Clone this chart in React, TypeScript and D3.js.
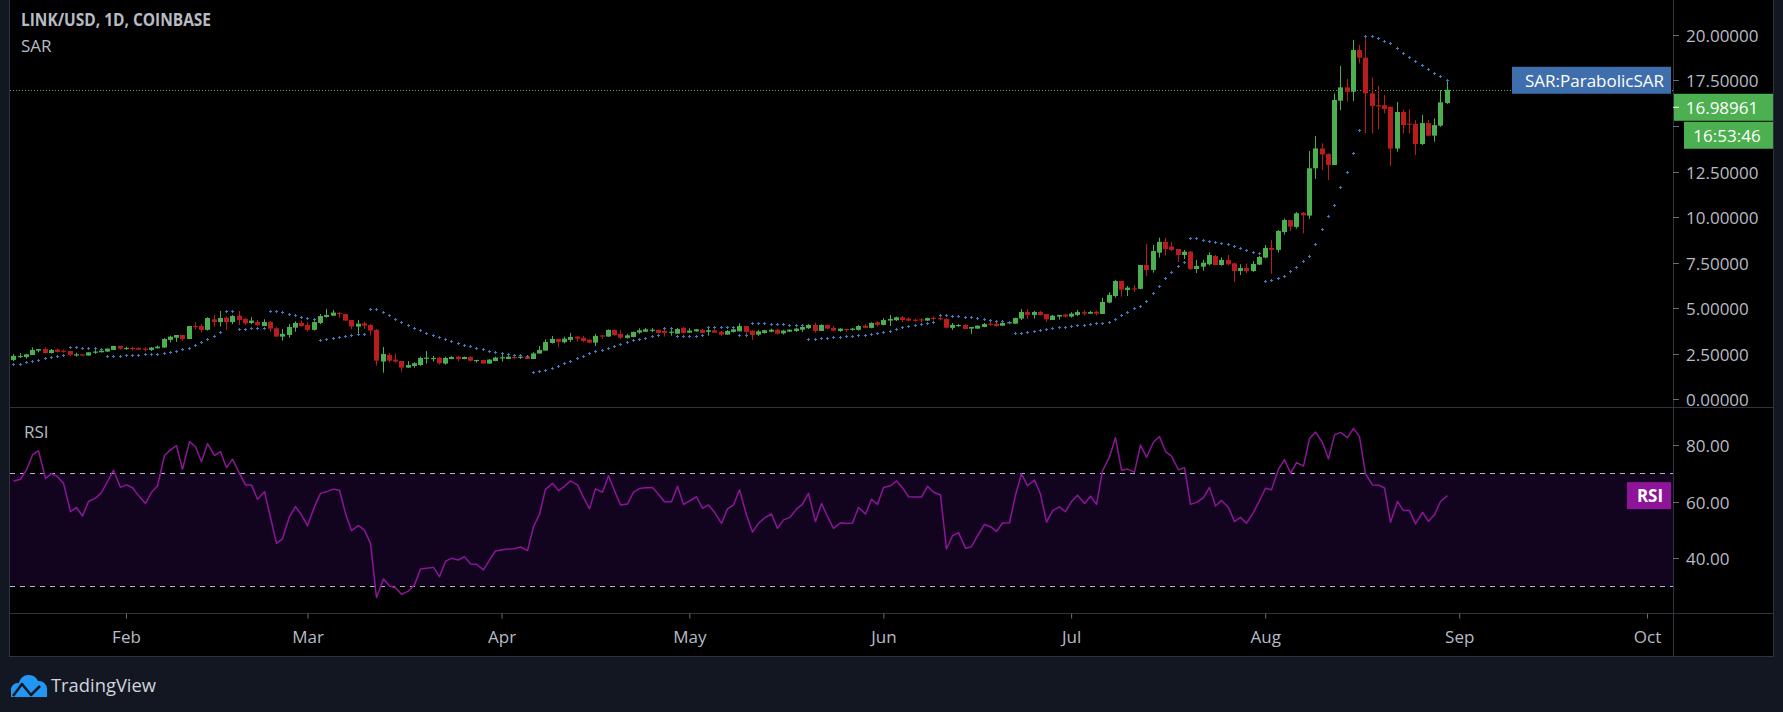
import { useEffect, useRef } from "react";
import * as d3 from "d3";

const W = 1783;
const H = 712;

// daily candles, LINK/USD, first candle on 14 Jan 2020
const startDay = new Date(2020, 0, 14);
const endDay = new Date(2020, 9, 1);

const openPrices = [
  2.16, 2.32, 2.32, 2.43, 2.67, 2.76, 2.54, 2.73, 2.67, 2.65,
  2.43, 2.47, 2.4, 2.58, 2.58, 2.62, 2.71, 2.93, 2.78, 2.82,
  2.82, 2.78, 2.71, 2.8, 2.84, 3.26, 3.38, 3.53, 3.31, 4.02,
  4.02, 3.81, 4.39, 4.24, 4.48, 4.24, 4.59, 4.41, 4.19, 4.24,
  4.02, 4.24, 3.9, 3.44, 3.53, 3.93, 4.19, 4.08, 3.81, 4.19,
  4.52, 4.59, 4.74, 4.68, 4.35, 3.99, 4.17, 4.08, 3.81, 2.07,
  2.43, 2.18, 2.1, 1.74, 1.83, 1.88, 2.25, 2.21, 2.29, 1.96,
  2.21, 2.34, 2.21, 2.32, 2.12, 2.16, 1.96, 2.1, 2.27, 2.21,
  2.32, 2.29, 2.34, 2.21, 2.51, 2.67, 3.09, 3.31, 3.13, 3.26,
  3.44, 3.38, 3.27, 3.11, 3.51, 3.44, 3.81, 3.59, 3.37, 3.42,
  3.66, 3.71, 3.77, 3.81, 3.75, 3.66, 3.6, 3.92, 3.66, 3.73,
  3.82, 3.7, 3.79, 3.71, 3.55, 3.7, 3.73, 4.02, 3.77, 3.55,
  3.64, 3.71, 3.82, 3.62, 3.71, 3.75, 3.82, 3.9, 4.08, 3.75,
  4.08, 3.92, 3.75, 3.86, 3.81, 3.81, 4.04, 3.92, 4.23, 4.08,
  4.32, 4.34, 4.5, 4.43, 4.37, 4.39, 4.32, 4.48, 4.45, 4.41,
  3.92, 4.02, 4.08, 3.88, 3.88, 3.97, 4.15, 4.15, 4.04, 4.17,
  4.15, 4.43, 4.79, 4.63, 4.79, 4.68, 4.35, 4.54, 4.65, 4.54,
  4.63, 4.78, 4.7, 4.81, 4.68, 5.31, 5.67, 6.49, 6.0, 6.09,
  6.06, 7.37, 7.1, 8.05, 8.64, 8.38, 8.25, 7.92, 8.1, 7.15,
  7.28, 7.41, 7.87, 7.37, 7.65, 7.46, 7.04, 7.21, 7.04, 7.39,
  7.78, 8.31, 8.2, 9.18, 9.84, 9.46, 10.24, 10.08, 12.68, 13.77,
  13.46, 12.86, 16.39, 17.12, 16.88, 19.17, 18.75, 16.79, 16.14, 16.14,
  16.06, 13.76, 15.77, 15.13, 15.11, 14.01, 15.16, 14.47, 15.02, 16.26,
];

const highPrices = [
  2.49, 2.54, 2.47, 2.85, 2.76, 2.85, 2.76, 2.78, 2.74, 2.65,
  2.56, 2.48, 2.58, 2.74, 2.78, 2.8, 2.94, 2.93, 2.89, 2.89,
  2.85, 2.85, 2.87, 2.95, 3.35, 3.49, 3.53, 3.53, 4.03, 4.24,
  4.13, 4.5, 4.63, 4.85, 4.56, 4.63, 4.85, 4.48, 4.52, 4.35,
  4.39, 4.3, 3.95, 3.86, 4.13, 4.28, 4.34, 4.23, 4.28, 4.68,
  4.96, 4.9, 4.78, 4.7, 4.35, 4.35, 4.26, 4.13, 3.86, 2.87,
  2.54, 2.51, 2.1, 2.1, 2.03, 2.34, 2.65, 2.38, 2.32, 2.34,
  2.38, 2.38, 2.34, 2.36, 2.16, 2.17, 2.21, 2.34, 2.43, 2.43,
  2.45, 2.42, 2.38, 2.58, 2.93, 3.29, 3.48, 3.31, 3.44, 3.64,
  3.49, 3.48, 3.33, 3.59, 3.55, 3.84, 3.81, 3.81, 3.59, 3.71,
  3.9, 3.92, 3.92, 3.83, 3.81, 3.82, 3.92, 3.97, 3.9, 3.86,
  3.86, 3.88, 3.84, 3.75, 3.81, 3.93, 4.17, 4.02, 3.81, 3.81,
  3.82, 3.88, 3.88, 3.81, 3.84, 3.93, 4.12, 4.13, 4.21, 4.12,
  4.1, 4.02, 3.9, 3.86, 3.92, 4.08, 4.13, 4.23, 4.3, 4.45,
  4.63, 4.54, 4.57, 4.5, 4.43, 4.45, 4.48, 4.54, 4.5, 4.45,
  4.19, 4.13, 4.13, 3.97, 4.06, 4.19, 4.24, 4.32, 4.32, 4.3,
  4.48, 4.96, 4.96, 4.85, 4.85, 4.68, 4.63, 4.63, 4.68, 4.78,
  4.9, 4.9, 4.85, 4.87, 5.58, 5.87, 6.55, 6.5, 6.22, 6.27,
  7.38, 8.53, 8.47, 8.87, 8.87, 8.64, 8.25, 8.2, 8.14, 7.65,
  7.65, 8.07, 7.92, 7.79, 7.92, 7.5, 7.41, 7.46, 7.59, 7.87,
  8.47, 8.75, 9.29, 9.93, 9.85, 10.28, 10.28, 13.63, 14.45, 14.05,
  13.5, 16.79, 18.29, 17.58, 19.72, 19.45, 19.94, 17.67, 17.2, 16.7,
  16.06, 16.32, 15.91, 15.91, 15.33, 15.61, 15.33, 15.42, 16.97, 17.53,
];

const lowPrices = [
  2.1, 2.27, 2.23, 2.43, 2.58, 2.51, 2.51, 2.56, 2.56, 2.36,
  2.34, 2.39, 2.4, 2.49, 2.58, 2.6, 2.7, 2.73, 2.71, 2.67,
  2.71, 2.62, 2.65, 2.78, 2.84, 3.13, 3.15, 3.2, 3.3, 3.84,
  3.66, 3.77, 3.99, 3.99, 3.82, 4.12, 4.08, 4.08, 4.12, 4.01,
  4.02, 3.71, 3.44, 3.22, 3.38, 3.71, 3.99, 3.71, 3.77, 4.12,
  4.48, 4.57, 4.48, 4.3, 3.84, 3.59, 3.86, 3.51, 1.85, 1.46,
  2.03, 2.01, 1.52, 1.72, 1.74, 1.83, 1.96, 2.07, 1.9, 1.9,
  2.2, 2.09, 2.2, 2.07, 2.01, 1.95, 1.96, 2.09, 2.07, 2.21,
  2.21, 2.21, 2.21, 2.21, 2.51, 2.67, 3.06, 2.87, 3.07, 3.15,
  3.17, 3.15, 3.07, 2.93, 3.33, 3.44, 3.48, 3.31, 3.33, 3.4,
  3.59, 3.71, 3.68, 3.62, 3.44, 3.49, 3.6, 3.6, 3.64, 3.71,
  3.62, 3.49, 3.64, 3.48, 3.55, 3.66, 3.73, 3.51, 3.26, 3.48,
  3.6, 3.68, 3.55, 3.55, 3.7, 3.7, 3.7, 3.86, 3.66, 3.75,
  3.86, 3.73, 3.7, 3.7, 3.77, 3.77, 3.9, 3.9, 3.99, 4.06,
  4.02, 4.3, 4.24, 4.28, 4.26, 4.21, 4.3, 4.32, 4.32, 3.88,
  3.81, 3.97, 3.86, 3.59, 3.87, 3.95, 4.01, 3.97, 4.02, 4.12,
  4.13, 4.35, 4.41, 4.43, 4.59, 4.26, 4.35, 4.37, 4.48, 4.48,
  4.56, 4.61, 4.68, 4.61, 4.68, 5.27, 5.58, 5.63, 5.67, 5.89,
  6.04, 6.77, 6.95, 7.78, 7.89, 8.14, 7.54, 7.7, 7.1, 6.93,
  7.06, 7.35, 7.35, 7.33, 7.35, 6.46, 6.82, 6.93, 6.99, 7.37,
  7.74, 6.88, 8.05, 9.04, 9.24, 9.37, 9.11, 9.9, 12.09, 12.59,
  12.04, 12.86, 15.88, 16.34, 16.37, 18.44, 14.6, 14.6, 14.82, 15.69,
  12.8, 13.59, 14.6, 14.6, 13.41, 13.96, 14.42, 14.14, 14.96, 16.21,
];

const closePrices = [
  2.38, 2.38, 2.47, 2.71, 2.76, 2.54, 2.71, 2.6, 2.63, 2.45,
  2.47, 2.4, 2.58, 2.62, 2.67, 2.78, 2.93, 2.78, 2.82, 2.76,
  2.73, 2.74, 2.84, 2.89, 3.31, 3.44, 3.53, 3.31, 4.02, 3.99,
  3.81, 4.46, 4.24, 4.46, 4.24, 4.57, 4.35, 4.17, 4.32, 4.08,
  4.24, 3.88, 3.44, 3.59, 3.97, 4.19, 4.02, 3.81, 4.24, 4.57,
  4.63, 4.76, 4.7, 4.32, 3.99, 4.15, 4.04, 3.77, 2.12, 2.49,
  2.12, 2.07, 1.74, 1.88, 1.98, 2.27, 2.29, 2.27, 1.98, 2.27,
  2.32, 2.21, 2.32, 2.12, 2.16, 1.96, 2.18, 2.29, 2.31, 2.34,
  2.27, 2.34, 2.21, 2.52, 2.71, 3.15, 3.31, 3.15, 3.33, 3.42,
  3.33, 3.2, 3.11, 3.48, 3.44, 3.81, 3.53, 3.38, 3.51, 3.7,
  3.79, 3.84, 3.82, 3.64, 3.64, 3.71, 3.86, 3.64, 3.77, 3.84,
  3.64, 3.79, 3.66, 3.55, 3.75, 3.84, 4.02, 3.7, 3.53, 3.73,
  3.79, 3.82, 3.6, 3.77, 3.82, 3.88, 3.97, 4.08, 3.75, 4.08,
  3.88, 3.77, 3.88, 3.82, 3.88, 4.02, 3.92, 4.19, 4.08, 4.35,
  4.41, 4.5, 4.35, 4.32, 4.32, 4.34, 4.46, 4.43, 4.41, 3.93,
  4.08, 4.08, 3.86, 3.97, 4.04, 4.13, 4.1, 4.02, 4.19, 4.23,
  4.46, 4.79, 4.63, 4.79, 4.63, 4.39, 4.59, 4.63, 4.54, 4.7,
  4.79, 4.7, 4.79, 4.7, 5.34, 5.73, 6.49, 6.02, 6.13, 6.06,
  7.37, 7.1, 8.14, 8.64, 8.25, 8.2, 7.92, 8.1, 7.15, 7.32,
  7.5, 7.92, 7.37, 7.65, 7.41, 7.04, 7.21, 7.04, 7.43, 7.81,
  8.31, 8.2, 9.24, 9.84, 9.48, 10.21, 10.1, 12.68, 13.77, 13.44,
  12.86, 16.43, 17.12, 16.88, 19.17, 18.75, 16.79, 16.1, 16.12, 15.93,
  13.76, 15.77, 15.05, 15.07, 14.01, 15.16, 14.47, 15.05, 16.3, 16.99,
];

const sarValues = [
  1.92, 1.92, 2.03, 2.09, 2.14, 2.25, 2.31, 2.36, 2.42, 2.85,
  2.85, 2.8, 2.8, 2.8, 2.74, 2.36, 2.36, 2.36, 2.42, 2.42,
  2.42, 2.47, 2.47, 2.47, 2.52, 2.58, 2.63, 2.74, 2.8, 2.96,
  3.13, 3.29, 3.46, 3.68, 4.83, 4.83, 3.84, 3.84, 3.9, 3.9,
  3.9, 4.83, 4.83, 4.78, 4.67, 4.61, 4.5, 4.45, 4.39, 3.24,
  3.29, 3.35, 3.4, 3.46, 3.51, 3.57, 3.57, 4.94, 4.94, 4.78,
  4.61, 4.39, 4.23, 4.06, 3.9, 3.79, 3.62, 3.51, 3.4, 3.29,
  3.18, 3.07, 2.98, 2.91, 2.8, 2.74, 2.63, 2.58, 2.52, 2.47,
  2.42, 2.42, 2.36, 1.48, 1.54, 1.59, 1.7, 1.81, 1.98, 2.09,
  2.25, 2.36, 2.52, 2.63, 2.69, 2.8, 2.91, 3.02, 3.13, 3.24,
  3.29, 3.35, 3.46, 3.51, 3.9, 3.9, 3.46, 3.46, 3.46, 3.46,
  3.51, 3.95, 3.95, 3.95, 3.95, 3.95, 3.51, 3.51, 4.17, 4.17,
  4.17, 4.12, 4.12, 4.12, 4.06, 4.06, 4.06, 3.29, 3.29, 3.35,
  3.35, 3.4, 3.4, 3.46, 3.46, 3.51, 3.51, 3.57, 3.62, 3.68,
  3.73, 3.84, 3.95, 4.01, 4.06, 4.12, 4.17, 4.23, 4.61, 4.61,
  4.56, 4.56, 4.5, 4.5, 4.45, 4.39, 4.34, 4.28, 4.28, 4.23,
  3.62, 3.62, 3.68, 3.73, 3.79, 3.84, 3.9, 3.95, 3.95, 4.01,
  4.06, 4.06, 4.12, 4.17, 4.17, 4.23, 4.39, 4.61, 4.78, 4.99,
  5.1, 5.38, 5.82, 6.2, 6.64, 6.97, 7.3, 7.52, 8.84, 8.84,
  8.73, 8.67, 8.62, 8.56, 8.51, 8.4, 8.29, 8.18, 8.07, 8.01,
  6.48, 6.53, 6.64, 6.75, 7.03, 7.24, 7.57, 7.85, 8.51, 9.33,
  10.04, 10.65, 11.64, 12.49, 13.53, 14.78, 19.94, 19.94, 19.81, 19.68,
  19.57, 19.3, 19.02, 18.8, 18.55, 18.33, 18.13, 17.91, 17.73, 17.51,
];

const rsiValues = [
  67.3, 67.9, 71.2, 76.5, 78.0, 68.2, 69.9, 68.8, 66.5, 56.4,
  57.9, 54.9, 60.0, 61.2, 63.2, 67.1, 71.1, 65.0, 65.9, 64.9,
  62.1, 59.3, 63.3, 65.5, 76.3, 78.3, 79.8, 71.4, 81.2, 79.4,
  74.1, 80.5, 76.3, 77.7, 72.0, 75.0, 70.0, 65.9, 65.9, 60.8,
  63.5, 54.4, 45.2, 46.8, 54.7, 58.2, 55.3, 51.4, 58.2, 62.9,
  63.5, 64.4, 64.0, 55.8, 49.7, 51.5, 49.9, 45.2, 26.0, 32.6,
  30.1, 29.5, 27.2, 28.3, 30.5, 36.1, 36.4, 36.7, 33.4, 38.9,
  39.9, 39.3, 40.5, 37.9, 37.8, 35.8, 39.3, 42.5, 42.9, 43.2,
  43.3, 43.9, 42.6, 51.1, 55.5, 64.3, 66.5, 63.9, 65.4, 67.3,
  65.9, 61.5, 57.4, 64.5, 63.3, 69.1, 63.8, 58.8, 59.1, 63.3,
  64.6, 64.9, 65.0, 62.6, 59.9, 59.9, 65.4, 59.0, 60.2, 61.7,
  57.6, 58.8, 56.2, 52.3, 57.4, 58.8, 64.2, 55.2, 49.2, 52.3,
  54.2, 55.6, 50.5, 53.5, 54.3, 57.3, 59.1, 62.9, 52.9, 59.3,
  54.7, 50.5, 52.5, 52.2, 52.4, 57.9, 55.6, 60.8, 59.0, 65.0,
  65.6, 67.3, 64.9, 61.7, 61.6, 61.6, 65.4, 63.3, 62.3, 43.2,
  47.9, 49.0, 43.5, 44.0, 47.9, 51.9, 51.1, 49.4, 52.4, 52.5,
  62.3, 69.8, 65.6, 67.6, 62.6, 52.7, 56.7, 58.1, 56.4, 60.0,
  62.2, 59.3, 61.9, 59.0, 70.9, 75.8, 82.6, 71.1, 71.5, 70.4,
  80.0, 75.7, 81.0, 83.0, 77.7, 76.1, 71.2, 72.0, 59.0, 59.7,
  61.4, 65.0, 58.4, 60.4, 57.9, 52.9, 54.4, 52.3, 56.2, 60.3,
  64.7, 64.2, 71.5, 74.8, 70.0, 73.8, 72.6, 82.3, 84.6, 80.9,
  75.1, 83.6, 84.5, 82.6, 85.9, 83.0, 69.8, 65.9, 65.8, 64.8,
  52.7, 60.0, 56.8, 56.8, 52.1, 56.2, 53.0, 55.3, 60.0, 62.1,
];

const priceTicks = [0, 2.5, 5, 7.5, 10, 12.5, 15, 17.5, 20];
const rsiTicks = [40, 60, 80];
const rsiBand = [30, 70];
const lastPriceText = "16.98961";
const countdownText = "16:53:46";

const FONT = "'Open Sans', 'Noto Sans', sans-serif";
const TEXT = "#b8bbc4";
const GRID = "#2f333e";
const UP = "#4caf50";
const DOWN = "#b81c1c";
const SAR_BLUE = "#4577c0";
const RSI_PURPLE = "#8e1599";

export default function App() {
  const svgRef = useRef<SVGSVGElement>(null);

  useEffect(() => {
    const svg = d3.select(svgRef.current);
    if (!svgRef.current) return;
    svg.selectAll("*").remove();

    const left = 10;
    const right = 1773;
    const axisX = 1673;
    const paneSep = 407;
    const timeTop = 613;
    const bottom = 656;

    const x = d3.scaleTime().domain([startDay, endDay]).range([13.3, 1647]);
    const yP = d3.scaleLinear().domain([0, 20]).range([399.3, 34.9]);
    const yR = d3.scaleLinear().domain([30, 70]).range([586.3, 473.3]);

    const days = closePrices.map((_, i) => d3.timeDay.offset(startDay, i));
    const px = (i: number) => Math.round(x(days[i]));

    svg.append("rect").attr("width", W).attr("height", H).attr("fill", "#131722");
    svg.append("rect")
      .attr("x", left).attr("y", 0)
      .attr("width", right - left).attr("height", bottom)
      .attr("fill", "#000");

    const defs = svg.append("defs");
    defs.append("clipPath").attr("id", "pricePane")
      .append("rect").attr("x", left).attr("y", 0)
      .attr("width", axisX - left).attr("height", paneSep);
    defs.append("clipPath").attr("id", "rsiPane")
      .append("rect").attr("x", left).attr("y", paneSep + 1)
      .attr("width", axisX - left).attr("height", timeTop - paneSep - 1);

    // frame lines
    const frame = svg.append("g").attr("stroke", GRID).attr("stroke-width", 1);
    frame.append("line").attr("x1", left - 0.5).attr("x2", left - 0.5).attr("y1", 0).attr("y2", bottom + 1);
    frame.append("line").attr("x1", right + 0.5).attr("x2", right + 0.5).attr("y1", 0).attr("y2", bottom + 1);
    frame.append("line").attr("x1", left - 1).attr("x2", right + 1).attr("y1", bottom + 0.5).attr("y2", bottom + 0.5);
    frame.append("line").attr("x1", left).attr("x2", right).attr("y1", paneSep + 0.5).attr("y2", paneSep + 0.5);
    frame.append("line").attr("x1", left).attr("x2", right).attr("y1", timeTop + 0.5).attr("y2", timeTop + 0.5);
    frame.append("line").attr("x1", axisX + 0.5).attr("x2", axisX + 0.5).attr("y1", 0).attr("y2", bottom);

    // ---- price pane
    const price = svg.append("g").attr("clip-path", "url(#pricePane)");
    const lastClose = closePrices[closePrices.length - 1];
    const lastY = Math.round(yP(lastClose)) + 0.5;
    price.append("line")
      .attr("x1", left).attr("x2", axisX)
      .attr("y1", lastY).attr("y2", lastY)
      .attr("stroke", UP).attr("stroke-dasharray", "1 2");

    const candles = price.append("g")
      .selectAll("g")
      .data(closePrices.map((c, i) => ({ i, o: openPrices[i], h: highPrices[i], l: lowPrices[i], c })))
      .join("g")
      .attr("fill", (d) => (d.c >= d.o ? UP : DOWN))
      .attr("stroke", (d) => (d.c >= d.o ? UP : DOWN));

    candles.append("line")
      .attr("x1", (d) => px(d.i) + 0.5).attr("x2", (d) => px(d.i) + 0.5)
      .attr("y1", (d) => yP(d.h)).attr("y2", (d) => yP(d.l))
      .attr("stroke-width", 1);

    candles.append("rect")
      .attr("stroke", "none")
      .attr("x", (d) => px(d.i) - 2)
      .attr("width", 5)
      .attr("y", (d) => yP(Math.max(d.o, d.c)))
      .attr("height", (d) => Math.max(1.2, Math.abs(yP(d.o) - yP(d.c))));

    price.append("path")
      .attr("fill", "none")
      .attr("stroke", SAR_BLUE)
      .attr("stroke-width", 1)
      .attr("d", sarValues.map((s, i) => {
        const cx = px(i) + 0.5;
        const cy = Math.round(yP(s)) + 0.5;
        return `M${cx - 1.5},${cy}H${cx + 1.5}M${cx},${cy - 1.5}V${cy + 1.5}`;
      }).join(""));

    // ---- RSI pane
    const rsi = svg.append("g").attr("clip-path", "url(#rsiPane)");
    rsi.append("rect")
      .attr("x", left).attr("width", axisX - left)
      .attr("y", yR(rsiBand[1])).attr("height", yR(rsiBand[0]) - yR(rsiBand[1]))
      .attr("fill", "#12041f");
    rsi.selectAll("line.band")
      .data(rsiBand)
      .join("line")
      .attr("class", "band")
      .attr("x1", left).attr("x2", axisX)
      .attr("y1", (d) => Math.round(yR(d)) + 0.5).attr("y2", (d) => Math.round(yR(d)) + 0.5)
      .attr("stroke", "#b5b5bd")
      .attr("stroke-dasharray", "5 5");

    const rsiLine = d3.line<number>()
      .x((_, i) => px(i) + 0.5)
      .y((d) => yR(d));
    rsi.append("path")
      .datum(rsiValues)
      .attr("fill", "none")
      .attr("stroke", RSI_PURPLE)
      .attr("stroke-width", 1.5)
      .attr("stroke-linejoin", "round")
      .attr("d", rsiLine);

    // label boxes sit over the price scale, so work out where they go first
    const lastSar = sarValues[sarValues.length - 1];
    const sarMid = yP(lastSar);
    const priceTop = sarMid + 13.5;
    const boxesTop = priceTop - 6;
    const boxesBottom = priceTop + 55 + 6;

    // ---- price axis
    const pAxis = svg.append("g").attr("font-family", FONT).attr("font-size", 17).attr("fill", TEXT);
    priceTicks.forEach((t) => {
      const ty = Math.round(yP(t)) + 0.5;
      pAxis.append("line").attr("x1", axisX).attr("x2", axisX + 6)
        .attr("y1", ty).attr("y2", ty).attr("stroke", "#6a6d78");
      if (ty > boxesTop && ty < boxesBottom) return; // hidden behind the value labels
      pAxis.append("text").attr("x", 1686).attr("y", ty + 6.5).text(d3.format(".5f")(t));
    });
    rsiTicks.forEach((t) => {
      const ty = Math.round(yR(t)) + 0.5;
      pAxis.append("line").attr("x1", axisX).attr("x2", axisX + 6)
        .attr("y1", ty).attr("y2", ty).attr("stroke", "#6a6d78");
      pAxis.append("text").attr("x", 1686).attr("y", ty + 6.5).text(d3.format(".2f")(t));
    });

    // ---- time axis
    const tAxis = svg.append("g")
      .attr("transform", `translate(0,${timeTop + 0.5})`)
      .call(
        d3.axisBottom(x)
          .tickValues(d3.timeMonth.range(new Date(2020, 1, 1), new Date(2020, 9, 2)))
          .tickFormat((d) => d3.timeFormat("%b")(d as Date))
          .tickSize(5)
          .tickPadding(12)
      );
    tAxis.select(".domain").remove();
    tAxis.selectAll(".tick line").attr("stroke", "#6a6d78");
    tAxis.selectAll(".tick text")
      .attr("fill", TEXT)
      .attr("font-family", FONT)
      .attr("font-size", 17);

    // ---- legends
    const legend = svg.append("g").attr("font-family", FONT).attr("fill", TEXT).attr("font-size", 17);
    legend.append("text").attr("x", 21).attr("y", 26)
      .attr("font-weight", 700)
      .attr("textLength", 190).attr("lengthAdjust", "spacingAndGlyphs")
      .text("LINK/USD, 1D, COINBASE");
    legend.append("text").attr("x", 21).attr("y", 52).text("SAR");
    legend.append("text").attr("x", 24).attr("y", 438).text("RSI");

    // ---- value labels
    const labels = svg.append("g").attr("font-family", FONT).attr("font-size", 17).attr("fill", "#fff");

    labels.append("rect").attr("x", 1512).attr("y", sarMid - 13.5)
      .attr("width", 159).attr("height", 27).attr("fill", "#3f6ead");
    labels.append("text").attr("x", 1664).attr("y", sarMid + 6.5)
      .attr("text-anchor", "end").text("SAR:ParabolicSAR");

    labels.append("rect").attr("x", axisX + 1).attr("y", priceTop)
      .attr("width", right - axisX - 1).attr("height", 27).attr("fill", UP);
    labels.append("line").attr("x1", axisX).attr("x2", axisX + 6)
      .attr("y1", priceTop + 13.5).attr("y2", priceTop + 13.5).attr("stroke", "#fff");
    labels.append("text").attr("x", 1722).attr("y", priceTop + 20)
      .attr("text-anchor", "middle").text(lastPriceText);

    labels.append("rect").attr("x", 1684).attr("y", priceTop + 28)
      .attr("width", right - 1684).attr("height", 27).attr("fill", UP);
    labels.append("text").attr("x", 1727).attr("y", priceTop + 48)
      .attr("text-anchor", "middle").text(countdownText);

    const rsiMid = yR(rsiValues[rsiValues.length - 1]);
    labels.append("rect").attr("x", 1627).attr("y", rsiMid - 13.5)
      .attr("width", 44).attr("height", 27).attr("fill", RSI_PURPLE);
    labels.append("text").attr("x", 1650).attr("y", rsiMid + 6.5)
      .attr("text-anchor", "middle").attr("font-weight", 700).text("RSI");

    // ---- TradingView mark
    const logo = svg.append("g");
    logo.append("path")
      .attr("fill", "#2196f3")
      .attr("d", "M11,697 L11,691 A7,7 0 0 1 19,683 A10,10 0 0 1 38,681 A8,8 0 0 1 47,689 L47,697 Z");
    logo.append("path")
      .attr("fill", "none")
      .attr("stroke", "#131722")
      .attr("stroke-width", 2.5)
      .attr("stroke-linejoin", "round")
      .attr("d", "M13,696 L22,684 L31,695 L40,686");
    logo.append("text")
      .attr("x", 51).attr("y", 692)
      .attr("font-family", FONT).attr("font-size", 18)
      .attr("fill", "#d1d4dc")
      .attr("textLength", 105).attr("lengthAdjust", "spacingAndGlyphs")
      .text("TradingView");
  }, []);

  return (
    <svg
      ref={svgRef}
      width={W}
      height={H}
      style={{ position: "fixed", left: 0, top: 0, display: "block" }}
    />
  );
}
